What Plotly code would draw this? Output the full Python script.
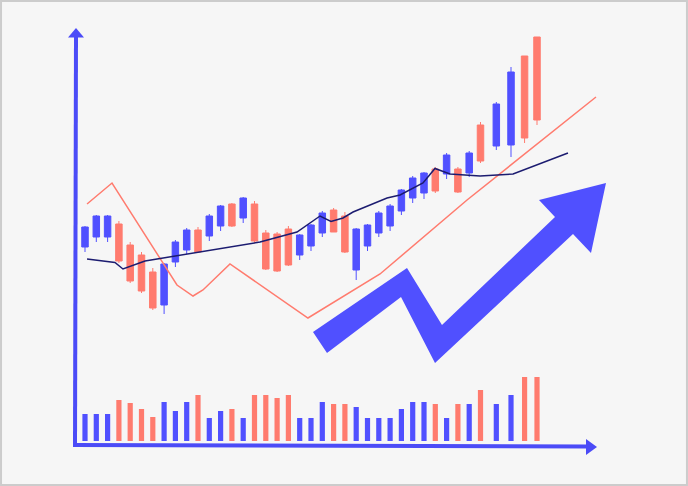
import plotly.graph_objects as go

# ---------------- data ----------------
day = list(range(36)) + [36.4, 37.7, 38.9, 40.0]

open_ = [239, 249, 249, 262, 241, 231, 214, 181, 224, 236,
         256, 250, 260, 282, 268, 282, 253, 252, 257, 231,
         240, 253, 276, 270, 216, 240, 253, 260, 275, 288,
         293, 317, 312, 317, 313, 361, 340, 341, 430, 449]
high = [260, 271, 271, 265, 244, 234, 218, 223, 246, 258,
        259, 272, 281, 283, 289, 285, 256, 254, 260, 252,
        262, 275, 278, 274, 258, 262, 275, 282, 297, 310,
        314, 319, 333, 319, 335, 364, 384, 419, 430, 449]
low = [234, 244, 244, 223, 203, 193, 176, 172, 219, 232,
       234, 245, 255, 259, 263, 243, 216, 214, 220, 226,
       235, 249, 254, 233, 206, 235, 249, 255, 271, 283,
       287, 293, 307, 293, 309, 323, 336, 329, 343, 361]
close = [259, 270, 270, 225, 205, 195, 178, 222, 244, 256,
         234, 270, 280, 260, 288, 245, 217, 215, 221, 251,
         261, 273, 254, 234, 257, 261, 273, 280, 296, 308,
         313, 295, 331, 294, 333, 325, 382, 414, 348, 366]

volume = [27, 27, 27, 41, 38, 32, 24, 39, 30, 39,
          46, 23, 30, 32, 23, 46, 46, 43, 46, 23,
          23, 39, 37, 37, 34, 23, 23, 23, 32, 39,
          39, 37, 23, 37, 37, 51, 37, 46, 64, 64]

ma_day = [0.18, 2.65, 3.36, 5.31, 15.49, 18.76, 20.8, 21.77, 22.83, 23.72,
          26.73, 27.88, 29.91, 30.97, 32.3, 34.96, 37.88, 42.74]
ma_val = [227, 223.5, 217, 225, 244, 254, 270, 264.5, 268, 274,
          288, 291, 303, 317.5, 312, 310, 312, 333]

trend_day = [0.18, 2.39, 8.14, 9.56, 10.44, 12.83, 19.73, 26.11, 33.81, 45.22]
trend_val = [282, 303, 201, 190, 196, 222, 168, 212, 286, 389]

# ---------------- style ----------------
W, H = 688, 486
BLUE = "#5050ff"
RED = "#ff7b6e"
AXIS = "#4b4bf7"
NAVY = "#1c1c70"
BG = "#f6f6f6"

vol_colors = [BLUE if c > o else RED for o, c in zip(open_, close)]

fig = go.Figure()

fig.add_trace(go.Bar(
    x=day, y=volume, yaxis="y2", width=0.46,
    marker=dict(color=vol_colors, line=dict(width=0)),
    hoverinfo="skip", showlegend=False))

fig.add_trace(go.Scatter(
    x=trend_day, y=trend_val, mode="lines",
    line=dict(color=RED, width=1.5), hoverinfo="skip", showlegend=False))

fig.add_trace(go.Candlestick(
    x=day, open=open_, high=high, low=low, close=close,
    increasing=dict(line=dict(color=BLUE, width=1), fillcolor=BLUE),
    decreasing=dict(line=dict(color=RED, width=1), fillcolor=RED),
    whiskerwidth=0, showlegend=False))

fig.add_trace(go.Scatter(
    x=ma_day, y=ma_val, mode="lines",
    line=dict(color=NAVY, width=1.5), hoverinfo="skip", showlegend=False))


def P(px, py):
    return px / W, 1 - py / H


def path(pts):
    s = ""
    for i, (a, b) in enumerate(pts):
        x, y = P(a, b)
        s += ("M" if i == 0 else "L") + f"{x:.5f},{y:.5f} "
    return s + "Z"


# decorative big arrow (pixel vertices)
ARROW = [(313, 332), (407, 268), (442, 325), (555, 217), (539, 200),
         (606, 183), (591, 253), (573, 234), (435, 363), (401, 297), (327, 353)]

shapes = [
    dict(type="path", xref="paper", yref="paper", path=path(ARROW),
         fillcolor=BLUE, line=dict(width=0), layer="above"),
    # y axis line + head
    dict(type="line", xref="paper", yref="paper",
         x0=P(76, 36)[0], y0=P(76, 36)[1], x1=P(75, 445)[0], y1=P(75, 445)[1],
         line=dict(color=AXIS, width=4)),
    dict(type="path", xref="paper", yref="paper",
         path=path([(76, 28), (68, 37.5), (84, 37.5)]),
         fillcolor=AXIS, line=dict(width=0)),
    # x axis line + head
    dict(type="line", xref="paper", yref="paper",
         x0=P(73, 445)[0], y0=P(73, 445)[1], x1=P(588, 446.5)[0], y1=P(588, 446.5)[1],
         line=dict(color=AXIS, width=4)),
    dict(type="path", xref="paper", yref="paper",
         path=path([(597, 447), (586, 439), (586, 455)]),
         fillcolor=AXIS, line=dict(width=0)),
    # border
    dict(type="rect", xref="paper", yref="paper", x0=0.0015, y0=0.002, x1=0.9985, y1=0.998,
         line=dict(color="#cccccc", width=2)),
]

x0 = -85 / 11.3
x1 = (W - 85) / 11.3
fig.update_layout(
    width=W, height=H,
    margin=dict(l=0, r=0, t=0, b=0),
    paper_bgcolor=BG, plot_bgcolor=BG,
    showlegend=False,
    boxgap=0.18,
    xaxis=dict(range=[x0, x1], visible=False, rangeslider=dict(visible=False), fixedrange=True),
    yaxis=dict(range=[0, H], visible=False, fixedrange=True),
    yaxis2=dict(range=[-45, H - 45], overlaying="y", visible=False, fixedrange=True),
    shapes=shapes,
)

fig.write_html(
    "out.html",
    config={"displayModeBar": False},
    post_script="document.body.style.margin='0';document.body.style.padding='0';"
                "document.body.style.overflow='hidden';",
)
